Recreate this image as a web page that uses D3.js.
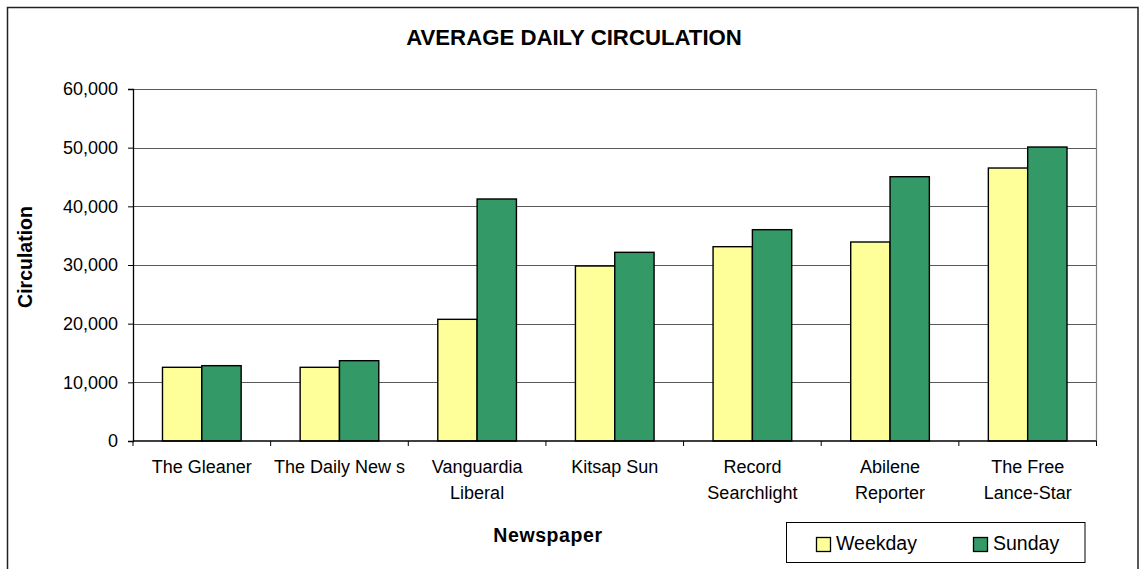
<!DOCTYPE html>
<html><head><meta charset="utf-8">
<script src="https://cdn.jsdelivr.net/npm/d3@7"></script>
<style>html,body{margin:0;padding:0;background:#fff;}svg{display:block;font-family:"Liberation Sans",Arial,sans-serif;}</style>
</head><body>
<script>
const categories = [["The Gleaner"],["The Daily New s"],["Vanguardia","Liberal"],["Kitsap Sun"],["Record","Searchlight"],["Abilene","Reporter"],["The Free","Lance-Star"]];
const seriesNames = ["Weekday","Sunday"];
const weekday = [12560, 12560, 20740, 29830, 33120, 33920, 46530];
const sunday  = [12840, 13690, 41250, 32160, 36020, 45050, 50110];
const seriesColors = ["#FFFF99","#339966"];
const yTicks = [0,10000,20000,30000,40000,50000,60000];

const W = 1139, H = 569;
const svg = d3.select("body").append("svg").attr("width", W).attr("height", H);

// outer frame
svg.append("rect").attr("x",7.5).attr("y",7.5).attr("width",1130.5).attr("height",575)
  .attr("fill","#fff").attr("stroke","#222").attr("stroke-width",1.5);

const L = 133, R = 1096.5, T = 89, B = 441;
const catIdx = categories.map((d,i)=>i);
const x = d3.scaleBand().domain(catIdx).range([L,R]).padding(0);
const xs = d3.scaleBand().domain([0,1]).range([0,x.bandwidth()]).paddingInner(0).paddingOuter(0.75);
const y = d3.scaleLinear().domain([0,60000]).range([B,T]);

// gridlines
svg.append("g").selectAll("line").data(yTicks.filter(t=>t>0)).join("line")
  .attr("x1",L).attr("x2",R).attr("y1",d=>Math.round(y(d))+0.5).attr("y2",d=>Math.round(y(d))+0.5)
  .attr("stroke","#5a5a5a").attr("stroke-width",1.2);
// right plot border
svg.append("line").attr("x1",R).attr("x2",R).attr("y1",T).attr("y2",B).attr("stroke","#808080").attr("stroke-width",1.2);

// bars
const data = [weekday, sunday];
const rows = [];
catIdx.forEach(i=>{ data.forEach((s,j)=>rows.push({i,j,v:s[i]})); });
svg.append("g").selectAll("rect").data(rows).join("rect")
  .attr("x",d=>x(d.i)+xs(d.j)).attr("width",xs.bandwidth())
  .attr("y",d=>y(d.v)).attr("height",d=>B-y(d.v))
  .attr("fill",d=>seriesColors[d.j]).attr("stroke","#000").attr("stroke-width",1.4);

// y axis
const yAxis = d3.axisLeft(y).tickValues(yTicks).tickSize(5).tickPadding(10).tickFormat(d3.format(","));
const gy = svg.append("g").attr("transform",`translate(${L},0)`).call(yAxis);
gy.select(".domain").attr("stroke","#000").attr("stroke-width",1.3);
gy.selectAll(".tick line").attr("stroke","#000");
gy.selectAll("text").attr("font-size",18).attr("fill","#000").attr("font-family","Liberation Sans, Arial, sans-serif");

// x axis
const gx = svg.append("g").attr("transform",`translate(0,${B})`);
gx.append("line").attr("x1",L).attr("x2",R).attr("y1",0).attr("y2",0).attr("stroke","#000").attr("stroke-width",1.3);
gx.selectAll("line.tk").data(d3.range(categories.length+1)).join("line").attr("class","tk")
  .attr("x1",d=>L+d*x.step()).attr("x2",d=>L+d*x.step()).attr("y1",0).attr("y2",5).attr("stroke","#000");
const lbl = gx.selectAll("text.cat").data(catIdx).join("text").attr("class","cat")
  .attr("text-anchor","middle").attr("font-size",18).attr("fill","#000")
  .attr("transform",d=>`translate(${x(d)+x.bandwidth()/2},0)`);
lbl.each(function(d){
  const t = d3.select(this);
  categories[d].forEach((line,k)=>t.append("tspan").attr("x",0).attr("y",32+k*26).text(line));
});

// title
svg.append("text").attr("x",574).attr("y",45).attr("text-anchor","middle")
  .attr("font-size",22.2).attr("font-weight","bold").text("AVERAGE DAILY CIRCULATION");
// axis titles
svg.append("text").attr("transform","translate(32,257) rotate(-90)").attr("text-anchor","middle")
  .attr("font-size",19.5).attr("font-weight","bold").text("Circulation");
svg.append("text").attr("x",548).attr("y",542).attr("text-anchor","middle")
  .attr("font-size",19.5).attr("font-weight","bold").attr("letter-spacing",0.6).text("Newspaper");

// legend
const lg = svg.append("g");
lg.append("rect").attr("x",786.5).attr("y",522.5).attr("width",298.5).attr("height",40)
  .attr("fill","#fff").attr("stroke","#000").attr("stroke-width",1);
const lx = [816, 973];
seriesNames.forEach((n,j)=>{
  lg.append("rect").attr("x",lx[j]+0.5).attr("y",537.5).attr("width",14).attr("height",14)
    .attr("fill",seriesColors[j]).attr("stroke","#000").attr("stroke-width",1.3);
  lg.append("text").attr("x",lx[j]+20).attr("y",550).attr("font-size",19.5).text(n);
});
</script>
</body></html>
